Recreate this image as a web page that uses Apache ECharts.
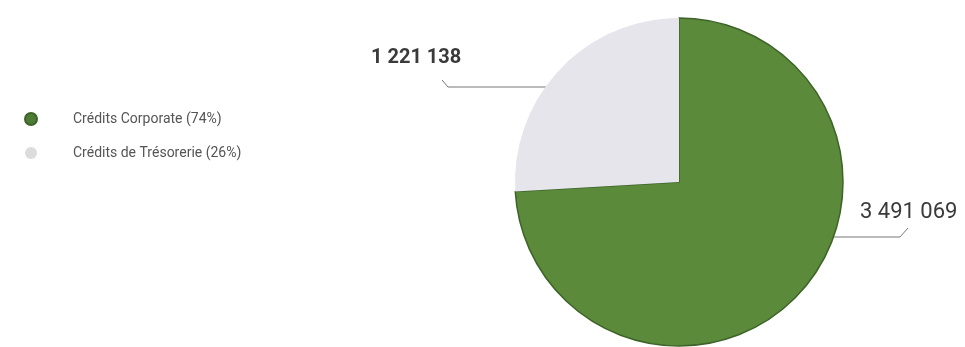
<!DOCTYPE html>
<html>
<head>
<meta charset="utf-8">
<script src="https://cdn.jsdelivr.net/npm/echarts@6/dist/echarts.min.js"></script>
<style>
  html, body { margin: 0; padding: 0; background: #fff; }
  #chart { width: 965px; height: 347px; }
</style>
</head>
<body>
<div id="chart"></div>
<script>
// Répartition des crédits
const categories = ['Crédits Corporate', 'Crédits de Trésorerie'];
const shares = ['74%', '26%'];
const amounts = [3491069, 1221138];
const colors = ['#5b8a3b', '#e7e5ec'];

const fmt = (v) => String(v).replace(/\B(?=(\d{3})+(?!\d))/g, ' ');

document.addEventListener('DOMContentLoaded', () => {
  const chart = echarts.init(document.getElementById('chart'));

  const legendNames = categories.map((c, i) => c + ' (' + shares[i] + ')');

  const option = {
    animation: false,
    legend: {
      orient: 'vertical',
      left: 19,
      top: 107,
      icon: 'circle',
      itemWidth: 12,
      itemHeight: 12,
      itemGap: 20,
      data: [
        { name: legendNames[0], itemStyle: { color: '#4f7c34' } },
        { name: legendNames[1], itemStyle: { color: '#dcdcdc' } }
      ],
      textStyle: {
        fontFamily: 'Roboto',
        fontSize: 14,
        color: '#555',
        padding: [0, 0, 0, 31]
      }
    },
    series: [
      {
        type: 'pie',
        center: [679, 182],
        radius: 164,
        startAngle: 90,
        clockwise: true,
        data: amounts.map((v, i) => ({
          name: legendNames[i],
          value: v,
          itemStyle: i === 0
            ? { color: colors[0], borderColor: '#3e6328', borderWidth: 1.5 }
            : { color: colors[1], borderWidth: 0 },
          label: i === 0
            ? { fontSize: 22, fontWeight: 'normal' }
            : { fontSize: 20, fontWeight: 'bold' }
        })),
        label: {
          show: true,
          position: 'outside',
          formatter: (p) => fmt(p.value),
          fontFamily: 'Roboto',
          color: '#3a3a3a'
        },
        labelLine: {
          show: true,
          lineStyle: { color: '#777', width: 1 }
        },
        emphasis: { disabled: true },
        labelLayout: (params) => {
          if (params.dataIndex === 0) {
            return {
              x: 860, y: 212, align: 'left', verticalAlign: 'middle',
              labelLinePoints: [[815, 237], [900, 237], [908, 228]]
            };
          }
          return {
            x: 371, y: 58, align: 'left', verticalAlign: 'middle',
            labelLinePoints: [[587, 87], [448, 87], [442, 80]]
          };
        }
      }
    ]
  };

  chart.setOption(option);
  window.addEventListener('resize', () => chart.resize());
});
</script>
</body>
</html>
